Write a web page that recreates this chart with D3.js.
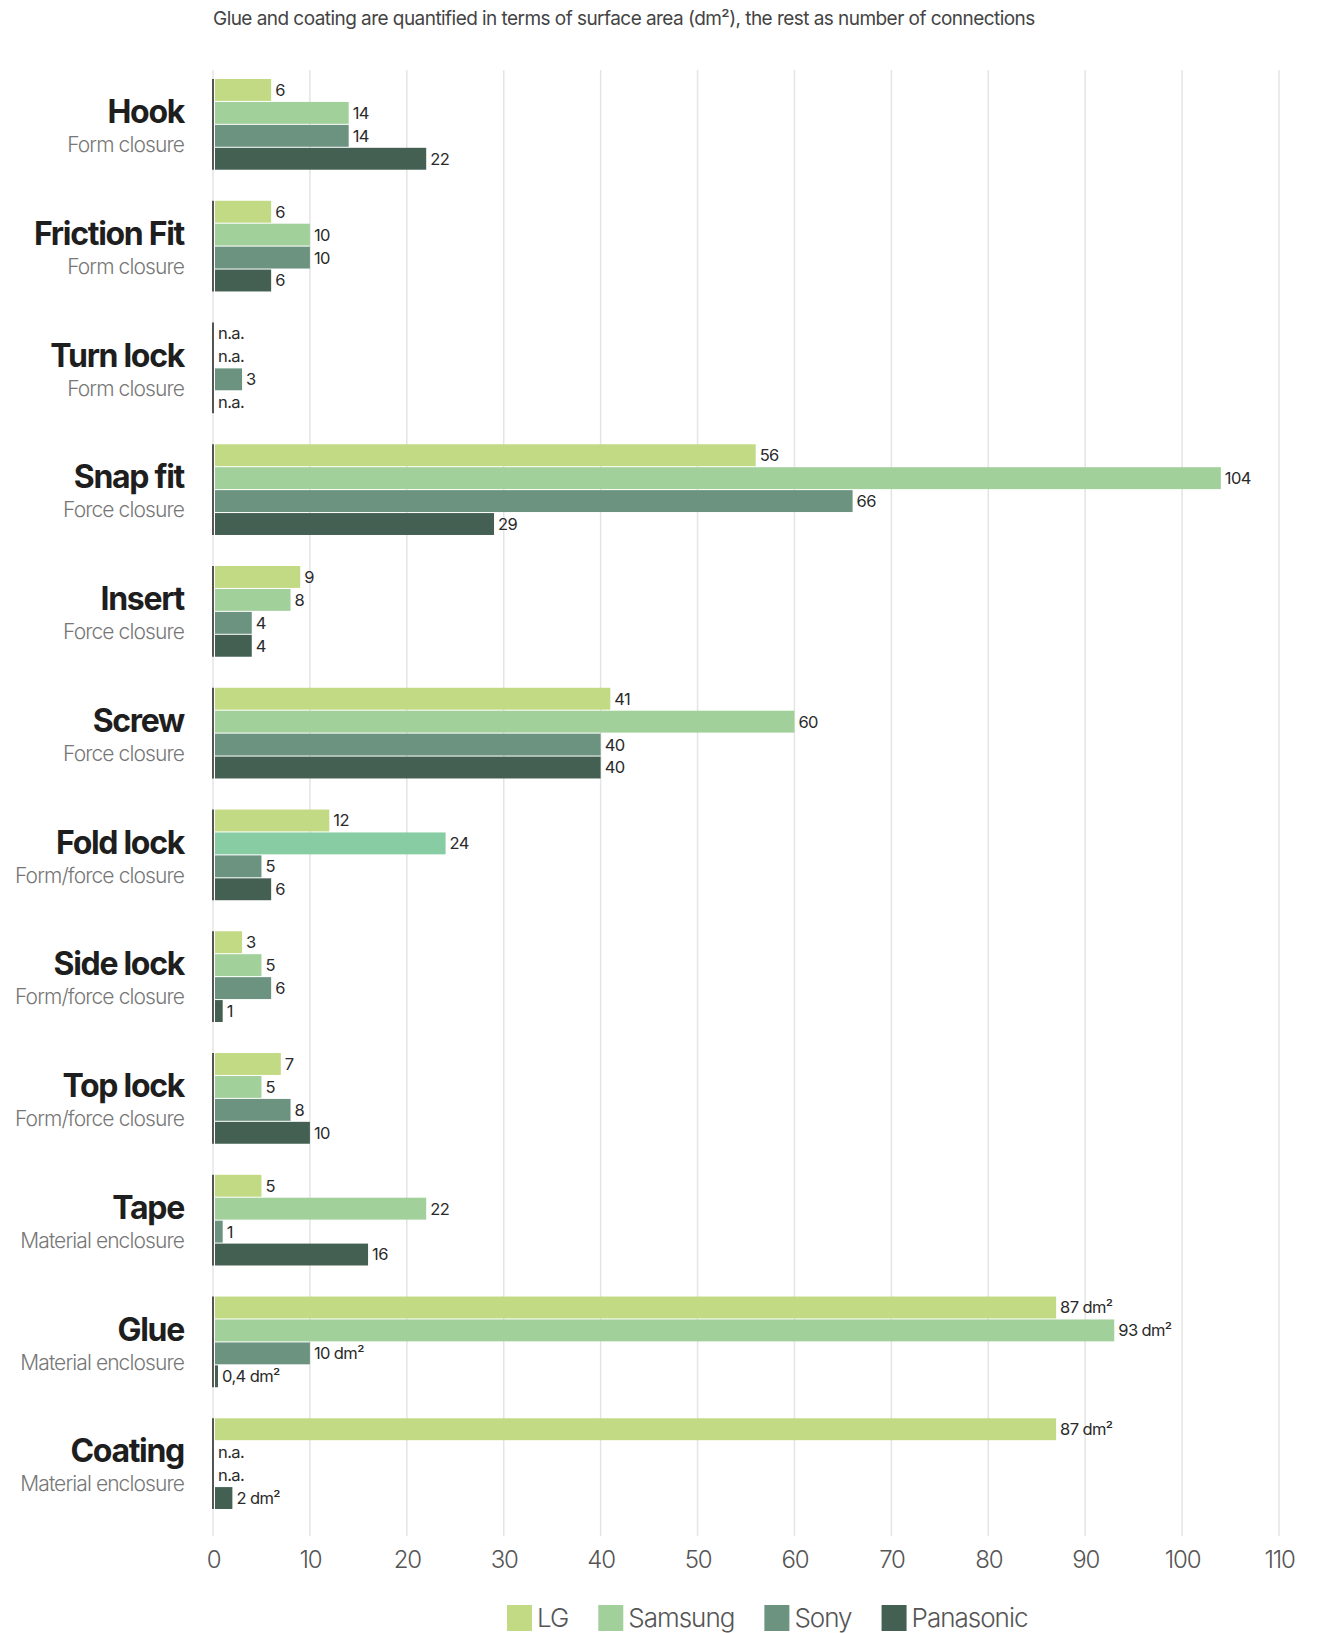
<!DOCTYPE html>
<html>
<head>
<meta charset="utf-8">
<script src="https://cdn.jsdelivr.net/npm/d3@7"></script>
<style>
  html, body { margin: 0; padding: 0; background: #fff; }
  svg { display: block; font-family: Inter, "Liberation Sans", sans-serif; }
</style>
</head>
<body>
<svg id="chart" width="1326" height="1633"></svg>
<script>
// ---------- data ----------
const subtitle = "Glue and coating  are quantified in terms of surface area (dm²), the rest as number of connections";
const categories = ["Hook", "Friction Fit", "Turn lock", "Snap fit", "Insert", "Screw",
                    "Fold lock", "Side lock", "Top lock", "Tape", "Glue", "Coating"];
const closureTypes = ["Form closure", "Form closure", "Form closure", "Force closure", "Force closure", "Force closure",
                      "Form/force closure", "Form/force closure", "Form/force closure",
                      "Material enclosure", "Material enclosure", "Material enclosure"];
const units = ["", "", "", "", "", "", "", "", "", "", " dm²", " dm²"];
const series = ["LG", "Samsung", "Sony", "Panasonic"];
// null = n.a.
const lgValues        = [6, 6, null, 56, 9, 41, 12, 3, 7, 5, 87, 87];
const samsungValues   = [14, 10, null, 104, 8, 60, 24, 5, 5, 22, 93, null];
const sonyValues      = [14, 10, 3, 66, 4, 40, 5, 6, 8, 1, 10, null];
const panasonicValues = [22, 6, null, 29, 4, 40, 6, 1, 10, 16, 0.4, 2];
const xTicks = [0, 10, 20, 30, 40, 50, 60, 70, 80, 90, 100, 110];
const seriesColors = ["#c3da84", "#a1d09b", "#6b9380", "#436052"];
const highlightCategory = "Fold lock";      // Samsung bar drawn in a brighter tint there
const highlightColor = "#88cca4";

// ---------- setup ----------
const svg = d3.select("#chart");
const valuesBySeries = [lgValues, samsungValues, sonyValues, panasonicValues];

const x = d3.scaleLinear().domain([0, 110]).range([213, 1279]);
const yGroup = d3.scaleBand().domain(categories).range([79, 1509]).paddingInner(0.255).paddingOuter(0);
const yRow = d3.scaleBand().domain(series).range([0, yGroup.bandwidth()]).paddingInner(0.045).paddingOuter(0);

const fmt = v => String(v).replace(".", ",");

// subtitle
svg.append("text")
  .attr("x", 213).attr("y", 25)
  .attr("font-size", 19).attr("fill", "#444").attr("font-weight", 400)
  .attr("letter-spacing", -0.55)
  .text(subtitle);

// gridlines
const gridTop = 70, gridBottom = 1536;
svg.append("g").selectAll("line").data(xTicks).join("line")
  .attr("x1", d => x(d)).attr("x2", d => x(d))
  .attr("y1", gridTop).attr("y2", gridBottom)
  .attr("stroke", "#e4e4e4").attr("stroke-width", 1.5);

// axis labels
const xAxis = d3.axisBottom(x).tickValues(xTicks).tickSize(0).tickPadding(0);
const ax = svg.append("g").attr("transform", `translate(0, ${1568})`).call(xAxis);
ax.select(".domain").remove();
ax.selectAll("text")
  .attr("font-family", "Inter, sans-serif")
  .attr("font-size", 24).attr("font-weight", 300).attr("fill", "#555")
  .attr("letter-spacing", -1.2)
  .attr("dy", 0);

// rows
const rows = [];
categories.forEach((c, i) => {
  series.forEach((s, j) => {
    rows.push({ cat: c, series: s, si: j, value: valuesBySeries[j][i], unit: units[i] });
  });
});

const groups = svg.append("g").selectAll("g").data(categories).join("g")
  .attr("transform", d => `translate(0, ${yGroup(d)})`);

// zero line per group
groups.append("line")
  .attr("x1", x(0)).attr("x2", x(0))
  .attr("y1", 0).attr("y2", yGroup.bandwidth())
  .attr("stroke", "#555").attr("stroke-width", 2);

// group labels
groups.append("text")
  .attr("x", 184).attr("y", 44)
  .attr("text-anchor", "end")
  .attr("font-size", 32).attr("font-weight", 700).attr("fill", "#1e1e1e")
  .attr("letter-spacing", -1.3)
  .text(d => d);
groups.append("text")
  .attr("x", 184).attr("y", 73)
  .attr("text-anchor", "end")
  .attr("font-size", 21).attr("font-weight", 300).attr("fill", "#777")
  .attr("letter-spacing", -0.9)
  .text((d, i) => closureTypes[i]);

// bars
const barLayer = svg.append("g");
const present = rows.filter(r => r.value !== null);
barLayer.selectAll("rect").data(present).join("rect")
  .attr("x", x(0) + 2)
  .attr("y", d => yGroup(d.cat) + yRow(d.series))
  .attr("width", d => Math.max(x(d.value) - x(0) - 2, 3))
  .attr("height", yRow.bandwidth())
  .attr("fill", d => (d.cat === highlightCategory && d.series === "Samsung") ? highlightColor : seriesColors[d.si]);

// value labels
barLayer.selectAll("text").data(rows).join("text")
  .attr("x", d => d.value === null ? x(0) + 5 : Math.max(x(d.value), x(0) + 5) + 4)
  .attr("y", d => yGroup(d.cat) + yRow(d.series) + yRow.bandwidth() / 2)
  .attr("dy", "0.36em")
  .attr("font-size", 16.5).attr("font-weight", 400).attr("fill", "#2a2a2a")
  .attr("letter-spacing", -0.6)
  .text(d => d.value === null ? "n.a." : fmt(d.value) + d.unit);

// legend
const legend = svg.append("g").attr("transform", "translate(507, 1605)");
let lx = 0;
series.forEach((s, j) => {
  const g = legend.append("g").attr("transform", `translate(${lx}, 0)`);
  g.append("rect").attr("width", 25).attr("height", 26).attr("fill", seriesColors[j]);
  const t = g.append("text").attr("x", 30).attr("y", 22)
    .attr("font-size", 26).attr("font-weight", 300).attr("fill", "#555")
    .attr("letter-spacing", -1.0)
    .text(s);
  lx += 30 + t.node().getComputedTextLength() + 30;
});
</script>
</body>
</html>
